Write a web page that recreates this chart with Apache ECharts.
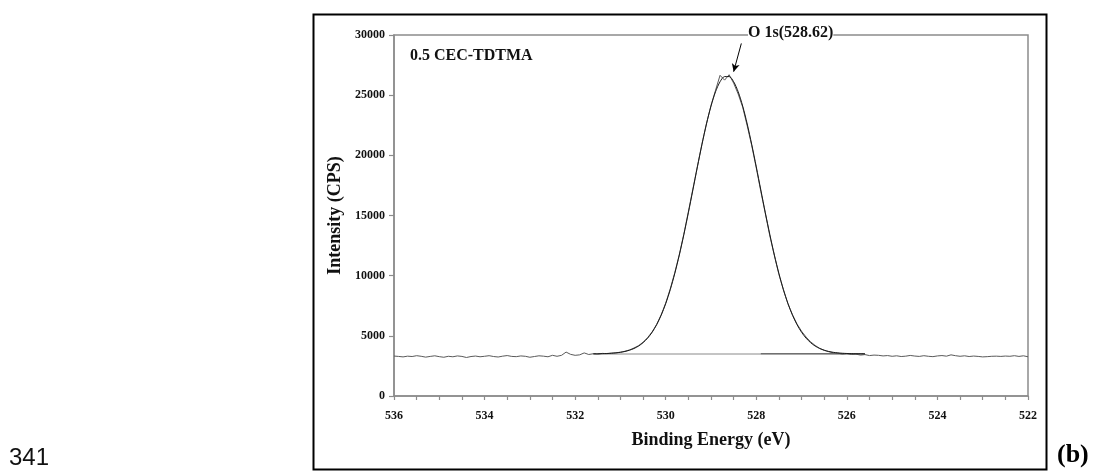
<!DOCTYPE html>
<html>
<head>
<meta charset="utf-8">
<script src="https://cdn.jsdelivr.net/npm/echarts@6/dist/echarts.min.js"></script>
<style>
html,body{margin:0;padding:0;background:#fff;}
#chart{width:1097px;height:472px;}
</style>
</head>
<body>
<div id="chart"></div>
<script>
// ---- data ----
const rawStart = 536.0;   // binding energy of first raw sample (eV)
const rawStep = 0.1;      // sampling step (eV), descending
const rawIntensity = [
  3320, 3290, 3250, 3310, 3280, 3350, 3300, 3230, 3290, 3340,
  3270, 3220, 3300, 3260, 3330, 3290, 3200, 3280, 3320, 3260,
  3300, 3350, 3280, 3240, 3310, 3360, 3290, 3270, 3330, 3300,
  3220, 3280, 3340, 3310, 3260, 3380,
  3300, 3380, 3650, 3460, 3380, 3420, 3580, 3450, 3510, 3480,
  3540, 3520, 3560, 3590, 3640, 3720, 3830, 3990, 4180, 4470,
  4850, 5330, 5950, 6750, 7720, 8900, 10250, 11750, 13450, 15300,
  17200, 19100, 20950, 22650, 24150, 25400, 26650, 26250, 26700, 26000,
  25100, 24000, 22450, 20800, 18950, 17000, 15150, 13300, 11650, 10100,
  8800, 7650, 6750, 5980, 5380, 4900, 4500, 4200, 3960, 3800,
  3680, 3590, 3560, 3480, 3530, 3450, 3480, 3400, 3440, 3360,
  3400,
  3380, 3330, 3360, 3300, 3340, 3280, 3310, 3370, 3320, 3290,
  3350, 3300, 3270, 3330, 3360, 3310, 3420, 3350, 3300, 3340,
  3280, 3320, 3290, 3250, 3270, 3300, 3310, 3290, 3320, 3300,
  3350, 3290, 3340, 3260
];
const fitStart = 531.6;
const fitStep = 0.1;
const fitIntensity = [
  3507, 3511, 3519, 3532, 3552, 3583, 3630, 3700, 3803, 3948,
  4151, 4431, 4805, 5295, 5926, 6713, 7679, 8834, 10178, 11710,
  13405, 15228, 17127, 19042, 20892, 22604, 24091, 25283, 26117, 26546,
  26546, 26117, 25283, 24091, 22604, 20892, 19042, 17127, 15228, 13405,
  11710, 10178, 8834, 7679, 6713, 5926, 5295, 4805, 4431, 4151,
  3948, 3803, 3700, 3630, 3583, 3552, 3532, 3519, 3511, 3507,
  3504
];
const backgroundLine = [[531.6, 3500], [525.6, 3500]];
const backgroundDark = [[527.9, 3510], [525.6, 3510]];
const peakLabel = 'O 1s(528.62)';
const sampleLabel = '0.5 CEC-TDTMA';
const arrowFrom = [528.33, 29300];
const arrowTo = [528.5, 26950];

// ---- build series data ----
const rawData = rawIntensity.map((v, i) => [Math.round((rawStart - i * rawStep) * 10) / 10, v]);
const fitData = fitIntensity.map((v, i) => [Math.round((fitStart - i * fitStep) * 10) / 10, v]);

const serif = 'Liberation Serif';
const axisGray = '#8c8c8c';

const chart = echarts.init(document.getElementById('chart'));
chart.setOption({
  animation: false,
  backgroundColor: '#fff',
  grid: {
    left: 394, right: 69, top: 35, bottom: 76,
    show: true, borderColor: axisGray, borderWidth: 1.5, backgroundColor: 'transparent'
  },
  xAxis: {
    type: 'value', inverse: true, min: 522, max: 536, interval: 2,
    name: 'Binding Energy (eV)', nameLocation: 'middle', nameGap: 35,
    nameTextStyle: { fontFamily: serif, fontWeight: 'bold', fontSize: 18, color: '#111' },
    axisLine: { show: true, lineStyle: { color: axisGray, width: 1.5 } },
    axisTick: { show: true, inside: false, length: 4, lineStyle: { color: axisGray, width: 1.2 } },
    minorTick: { show: true, splitNumber: 4, length: 4, lineStyle: { color: axisGray, width: 1.2 } },
    axisLabel: { fontFamily: serif, fontWeight: 'bold', fontSize: 12, color: '#111', margin: 14,
                 formatter: v => String(v) },
    splitLine: { show: false }
  },
  yAxis: {
    type: 'value', min: 0, max: 30000, interval: 5000,
    name: 'Intensity (CPS)', nameLocation: 'middle', nameGap: 44,
    nameTextStyle: { fontFamily: serif, fontWeight: 'bold', fontSize: 18, color: '#111' },
    axisLine: { show: true, lineStyle: { color: axisGray, width: 1.5 } },
    axisTick: { show: true, inside: false, length: 5, lineStyle: { color: axisGray, width: 1.2 } },
    axisLabel: { fontFamily: serif, fontWeight: 'bold', fontSize: 12, color: '#111', margin: 9,
                 formatter: v => String(v) },
    splitLine: { show: false }
  },
  series: [
    {
      name: 'background', type: 'line', data: backgroundLine, symbol: 'none',
      lineStyle: { color: '#b0b0b0', width: 1.5 }, z: 1
    },
    {
      name: 'background2', type: 'line', data: backgroundDark, symbol: 'none',
      lineStyle: { color: '#555', width: 1.2 }, z: 1
    },
    {
      name: 'raw', type: 'line', data: rawData, symbol: 'none',
      lineStyle: { color: '#5a5a5a', width: 1 }, z: 2
    },
    {
      name: 'fit', type: 'line', data: fitData, symbol: 'none', smooth: 0.3,
      lineStyle: { color: '#1a1a1a', width: 1 }, z: 3,
      markLine: {
        silent: true, symbol: ['none', 'arrow'], symbolSize: [6, 8],
        label: { show: false },
        lineStyle: { color: '#000', width: 1, type: 'solid' },
        data: [[{ coord: arrowFrom }, { coord: arrowTo }]]
      }
    }
  ],
  graphic: [
    { type: 'rect', left: 311, top: 12, shape: { width: 733, height: 455 },
      style: { fill: 'none', stroke: '#000', lineWidth: 2 }, z: 100 },
    { type: 'text', left: 410, top: 48, z: 100,
      style: { text: sampleLabel, font: 'bold 16px "Liberation Serif"', fill: '#111' } },
    { type: 'text', left: 748, top: 25, z: 100,
      style: { text: peakLabel, font: 'bold 16px "Liberation Serif"', fill: '#111',
               backgroundColor: '#fff' } },
    { type: 'text', left: 9, top: 446, z: 100,
      style: { text: '341', font: '24px "Liberation Sans"', fill: '#111' } },
    { type: 'text', left: 1057, top: 442, z: 100,
      style: { text: '(b)', font: 'bold 26px "Liberation Serif"', fill: '#000' } }
  ]
});
</script>
</body>
</html>
